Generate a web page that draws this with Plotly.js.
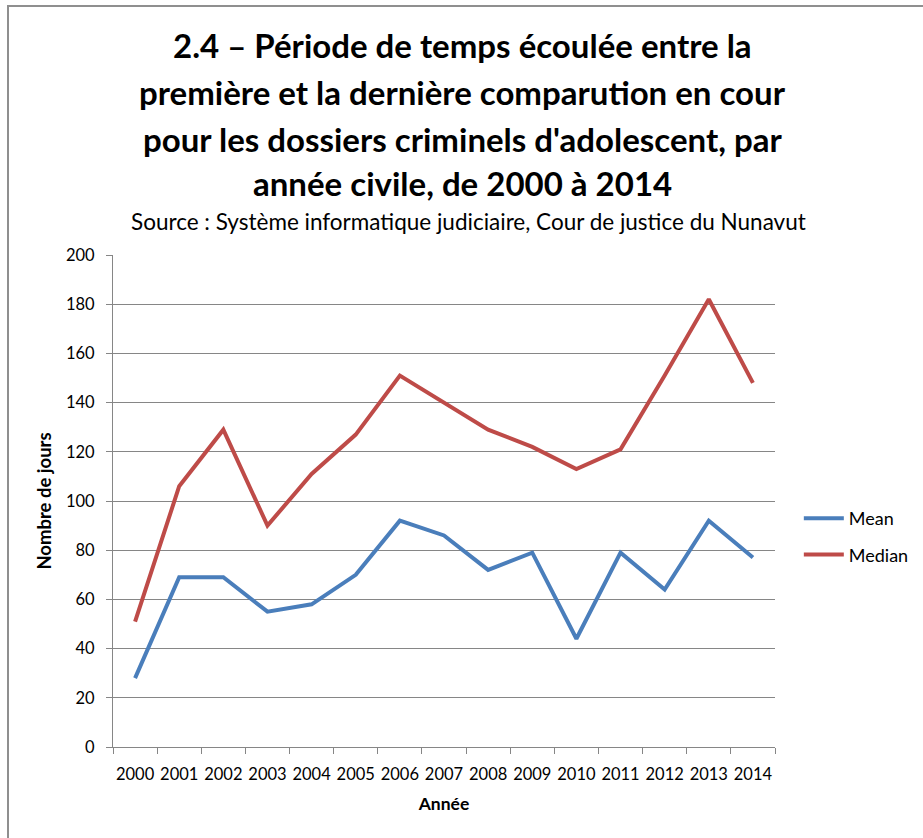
<!DOCTYPE html>
<html>
<head>
<meta charset="utf-8">
<script src="https://cdn.plot.ly/plotly-3.0.1.min.js"></script>
<style>
  html, body { margin: 0; padding: 0; background: #ffffff; }
  #frame { position: absolute; left: 7px; top: 5px; width: 1200px; height: 1200px;
           border-left: 2px solid #8f8f8f; border-top: 2px solid #8f8f8f; z-index: 0; }
  #chart { position: absolute; left: 0; top: 0; width: 923px; height: 838px; z-index: 1; }
</style>
</head>
<body>
<div id="frame"></div>
<div id="chart"></div>
<script>
const years = ["2000","2001","2002","2003","2004","2005","2006","2007","2008","2009","2010","2011","2012","2013","2014"];
const meanDays   = [28, 69, 69, 55, 58, 70, 92, 86, 72, 79, 44, 79, 64, 92, 77];
const medianDays = [51, 106, 129, 90, 111, 127, 151, 140, 129, 122, 113, 121, 151, 182, 148];
const seriesNames = ["Mean", "Median"];
const titleLines = [
  "2.4 – Période de temps écoulée entre la",
  "première et la dernière comparution en cour",
  "pour les dossiers criminels d'adolescent, par",
  "année civile, de 2000 à 2014"
];
const subtitleText = "Source : Système informatique judiciaire, Cour de justice du Nunavut";
const yTitle = "Nombre de jours";
const xTitle = "Année";

const FONT = "Lato, 'Open Sans', sans-serif";
const plotTopPx = 255, plotBottomPx = 747;
const py = p => (plotBottomPx - p) / (plotBottomPx - plotTopPx);

const traces = [
  { x: years, y: meanDays, name: seriesNames[0], type: "scatter", mode: "lines",
    line: { color: "#4a7ebb", width: 4 }, legendgroup: "a" },
  { x: years, y: medianDays, name: seriesNames[1], type: "scatter", mode: "lines",
    line: { color: "#be4b48", width: 4 }, legendgroup: "b" }
];

const titleY = [45, 92, 139, 183];
const annotations = titleLines.map((t, i) => ({
  text: "<b>" + t + "</b>", xref: "paper", yref: "paper",
  x: (462 - 113) / 662, y: py(titleY[i]), xanchor: "center", yanchor: "middle",
  showarrow: false, font: { family: FONT, size: 33, color: "#000000" }
}));
annotations.push({
  text: subtitleText, xref: "paper", yref: "paper",
  x: (468 - 113) / 662, y: py(221), xanchor: "center", yanchor: "middle",
  showarrow: false, font: { family: FONT, size: 22.5, color: "#000000" }
});

const layout = {
  width: 923, height: 838,
  margin: { l: 113, r: 148, t: 255, b: 91, pad: 0, autoexpand: false },
  paper_bgcolor: "rgba(0,0,0,0)", plot_bgcolor: "rgba(0,0,0,0)",
  font: { family: FONT, color: "#000000" },
  showlegend: true,
  legend: { x: 1.036, y: py(500), xanchor: "left", yanchor: "top",
            traceorder: "grouped", tracegroupgap: 10, itemwidth: 40,
            font: { family: FONT, size: 18, color: "#000000" }, bgcolor: "rgba(0,0,0,0)" },
  xaxis: {
    type: "category", range: [-0.5, 14.5], tickson: "boundaries",
    ticks: "outside", ticklen: 6, tickcolor: "#868686", tickwidth: 1,
    showline: true, linecolor: "#868686", linewidth: 1, showgrid: false, zeroline: false,
    tickfont: { family: FONT, size: 16.5, color: "#000000" }, tickangle: 0, ticklabelstandoff: 12,
    title: { text: "<b>" + xTitle + "</b>", font: { family: FONT, size: 17.5, color: "#000000" }, standoff: 14 }
  },
  yaxis: {
    range: [0, 200], dtick: 20, ticks: "outside", ticklen: 6, tickcolor: "#868686", tickwidth: 1,
    showline: true, linecolor: "#868686", linewidth: 1,
    showgrid: true, gridcolor: "#868686", gridwidth: 1, zeroline: false,
    tickfont: { family: FONT, size: 16.5, color: "#000000" }, ticklabelstandoff: 8,
    title: { text: "<b>" + yTitle + "</b>", font: { family: FONT, size: 18.5, color: "#000000" }, standoff: 9 }
  },
  annotations: annotations
};

Plotly.newPlot("chart", traces, layout, { displayModeBar: false, staticPlot: true });
</script>
</body>
</html>
